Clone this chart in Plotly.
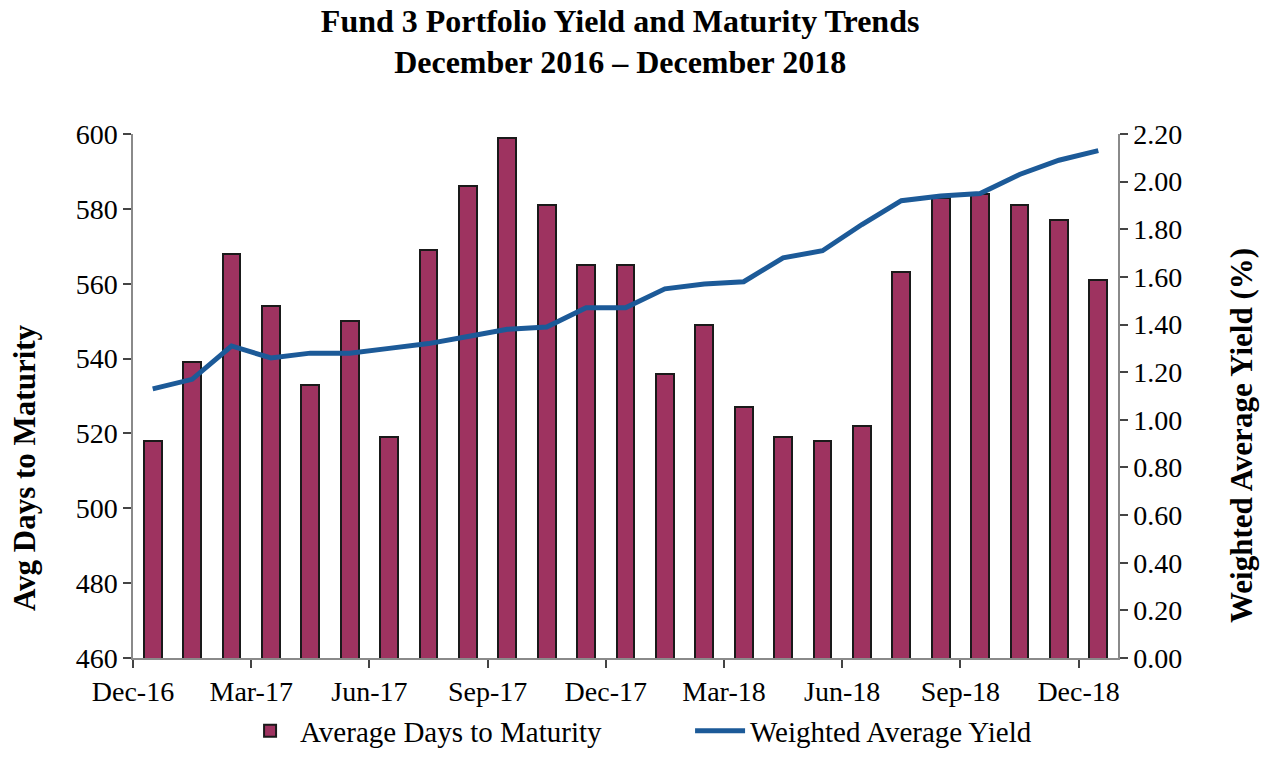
import plotly.graph_objects as go

months = ["Dec-16", "Jan-17", "Feb-17", "Mar-17", "Apr-17", "May-17", "Jun-17",
          "Jul-17", "Aug-17", "Sep-17", "Oct-17", "Nov-17", "Dec-17",
          "Jan-18", "Feb-18", "Mar-18", "Apr-18", "May-18", "Jun-18",
          "Jul-18", "Aug-18", "Sep-18", "Oct-18", "Nov-18", "Dec-18"]
avg_days = [518, 539, 568, 554, 533, 550, 519, 569, 586, 599, 581, 565, 565,
            536, 549, 527, 519, 518, 522, 563, 583, 584, 581, 577, 561]
yield_pct = [1.13, 1.17, 1.31, 1.26, 1.28, 1.28, 1.30, 1.32, 1.35, 1.38, 1.39, 1.47, 1.47,
             1.55, 1.57, 1.58, 1.68, 1.71, 1.82, 1.92, 1.94, 1.95, 2.03, 2.09, 2.13]
tick_labels = ["Dec-16", "Mar-17", "Jun-17", "Sep-17", "Dec-17",
               "Mar-18", "Jun-18", "Sep-18", "Dec-18"]

x_pos = [i + 0.5 for i in range(len(months))]
tick_vals = [months.index(lbl) for lbl in tick_labels]

FONT = "Liberation Serif, Times New Roman, serif"
BAR = "#9E3360"
LINE = "#1C5A98"
AXIS = "#8a8a8a"

fig = go.Figure()
fig.add_trace(go.Bar(
    x=x_pos, y=avg_days, name="Average Days to Maturity",
    width=0.45, marker=dict(color=BAR, line=dict(color="#1a1a1a", width=2)),
    yaxis="y", customdata=months,
))
fig.add_trace(go.Scatter(
    x=x_pos, y=yield_pct, name="Weighted Average Yield", mode="lines",
    line=dict(color=LINE, width=5), yaxis="y2",
))

fig.update_layout(
    width=1263, height=757,
    margin=dict(l=133, r=145, t=134, b=99, autoexpand=False),
    paper_bgcolor="white", plot_bgcolor="white",
    font=dict(family=FONT, color="black", size=28),
    title=dict(
        text="<b>Fund 3 Portfolio Yield and Maturity Trends<br>December 2016 \u2013 December 2018</b>",
        x=0.491, xanchor="center", y=0.958, yanchor="middle",
        font=dict(family=FONT, size=32, color="black"),
    ),
    bargap=0,
    xaxis=dict(
        range=[0, 25], tickmode="array", tickvals=tick_vals, ticktext=tick_labels,
        showgrid=False, zeroline=False, showline=True, linecolor=AXIS, linewidth=1.5,
        ticks="outside", ticklen=8, tickcolor="#444", tickwidth=1.5,
        tickfont=dict(family=FONT, size=28), fixedrange=True,
    ),
    yaxis=dict(
        range=[460, 600], dtick=20, tick0=460,
        showgrid=False, zeroline=False, showline=True, linecolor=AXIS, linewidth=1.5,
        ticks="outside", ticklen=8, tickcolor="#444", tickwidth=1.5,
        tickfont=dict(family=FONT, size=28),
    ),
    yaxis2=dict(
        range=[0, 2.2], dtick=0.2, tick0=0, tickformat=".2f", overlaying="y", side="right",
        showgrid=False, zeroline=False, showline=True, linecolor=AXIS, linewidth=1.5,
        ticks="outside", ticklen=8, tickcolor="#444", tickwidth=1.5,
        tickfont=dict(family=FONT, size=28),
    ),
    legend=dict(
        orientation="h", x=0.1087, xanchor="left", y=-0.188, yanchor="bottom",
        font=dict(family=FONT, size=29), itemwidth=50, tracegroupgap=0,
        entrywidth=385, entrywidthmode="pixels",
        bgcolor="rgba(0,0,0,0)",
    ),
    showlegend=True,
    annotations=[
        dict(text="<b>Avg Days to Maturity</b>", textangle=-90, xref="paper", yref="paper",
             x=-0.1096, y=0.3626, xanchor="center", yanchor="middle", showarrow=False,
             font=dict(family=FONT, size=31, color="black")),
        dict(text="<b>Weighted Average Yield (%)</b>", textangle=-90, xref="paper", yref="paper",
             x=1.1259, y=0.4237, xanchor="center", yanchor="middle", showarrow=False,
             font=dict(family=FONT, size=31, color="black")),
    ],
)

fig.write_html("out.html")
